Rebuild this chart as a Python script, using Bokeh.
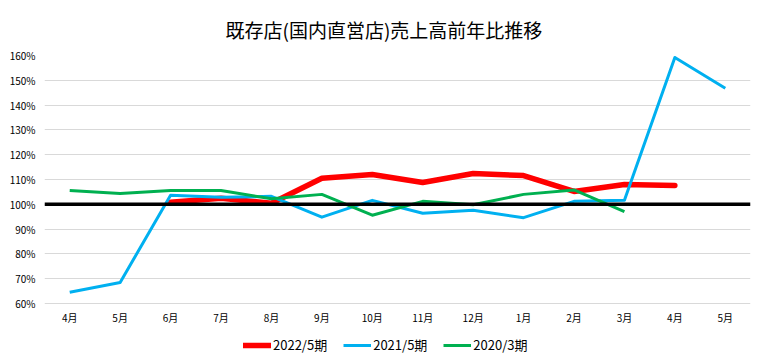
import math
from bokeh.plotting import figure
from bokeh.models import Span, Legend, LegendItem, FixedTicker, Range1d, NumeralTickFormatter
from bokeh.core.properties import value
from bokeh.embed import file_html
from bokeh.resources import INLINE

title_text = "既存店(国内直営店)売上高前年比推移"
months = ["4月", "5月", "6月", "7月", "8月", "9月", "10月", "11月", "12月", "1月", "2月", "3月", "4月", "5月"]
nan = float("nan")
s2022 = [nan, nan, 100.8, 102.4, 100.4, 110.5, 112.0, 108.8, 112.4, 111.6, 105.2, 108.0, 107.6, nan]
s2021 = [64.5, 68.5, 103.6, 102.8, 103.2, 94.8, 101.6, 96.4, 97.6, 94.6, 101.2, 101.6, 159.2, 146.8]
s2020 = [105.6, 104.4, 105.6, 105.6, 102.2, 104.0, 95.6, 101.2, 99.8, 104.0, 105.8, 97.0, nan, nan]
names = ["2022/5期", "2021/5期", "2020/3期"]
baseline = 100
y_ticks = [60, 70, 80, 90, 100, 110, 120, 130, 140, 150, 160]

FONT = "Noto Sans CJK JP"
xs = list(range(len(months)))

# frame: 160 at top, 60 at 248px below; extra room below for month labels and legend
px_per_unit = 2.48
extra_px = 55
y_lo = y_ticks[0] - extra_px / px_per_unit

p = figure(width=758, height=360, output_backend="svg", toolbar_location=None,
           x_range=Range1d(-0.5, len(months) - 0.5), y_range=Range1d(y_lo, y_ticks[-1]),
           min_border_left=44, min_border_right=8, min_border_top=55, min_border_bottom=2)
p.outline_line_color = None
p.background_fill_color = "white"
p.border_fill_color = "white"

p.title.text = title_text
p.title.align = "left"
p.title.offset = 181
p.title.standoff = 25
p.title.text_font = FONT
p.title.text_font_size = "19px"
p.title.text_font_style = "normal"
p.title.text_color = "#000000"

p.xaxis.visible = False
p.xgrid.grid_line_color = None
p.ygrid.grid_line_color = "#D9D9D9"
p.ygrid.grid_line_width = 1
p.yaxis.ticker = FixedTicker(ticks=y_ticks)
p.yaxis.formatter = NumeralTickFormatter(format="0")
p.yaxis.major_label_overrides = {t: f"{t}%" for t in y_ticks}
p.yaxis.axis_line_color = None
p.yaxis.major_tick_line_color = None
p.yaxis.minor_tick_line_color = None
p.yaxis.major_tick_out = 0
p.yaxis.major_tick_in = 0
p.yaxis.major_label_text_font = FONT
p.yaxis.major_label_text_font_size = "10px"
p.yaxis.major_label_text_color = "#000000"
p.yaxis.major_label_standoff = 9

# month labels along the bottom of the 60% line
p.text(x=xs, y=[y_ticks[0]] * len(xs), text=months, y_offset=14,
       text_font=value(FONT), text_font_size="10px", text_color="#000000",
       text_align="center", text_baseline="middle")

r1 = p.line(xs, s2022, line_color="#FF0000", line_width=5.5, line_cap="round", line_join="round")
r2 = p.line(xs, s2021, line_color="#00B0F0", line_width=3, line_join="round")
r3 = p.line(xs, s2020, line_color="#00B050", line_width=3, line_join="round")

p.add_layout(Span(location=baseline, dimension="width", line_color="#000000", line_width=3.5))

legend = Legend(items=[LegendItem(label=names[0], renderers=[r1]),
                       LegendItem(label=names[1], renderers=[r2]),
                       LegendItem(label=names[2], renderers=[r3])],
                orientation="horizontal", location=(199, 4),
                glyph_width=28, glyph_height=14, label_standoff=2, spacing=16,
                padding=2, margin=0, border_line_color=None, background_fill_alpha=0,
                label_text_font=FONT, label_text_font_size="13px", label_height=14,
                label_text_color="#000000")
p.add_layout(legend, "center")

open("out.html", "w").write(file_html(p, INLINE))
